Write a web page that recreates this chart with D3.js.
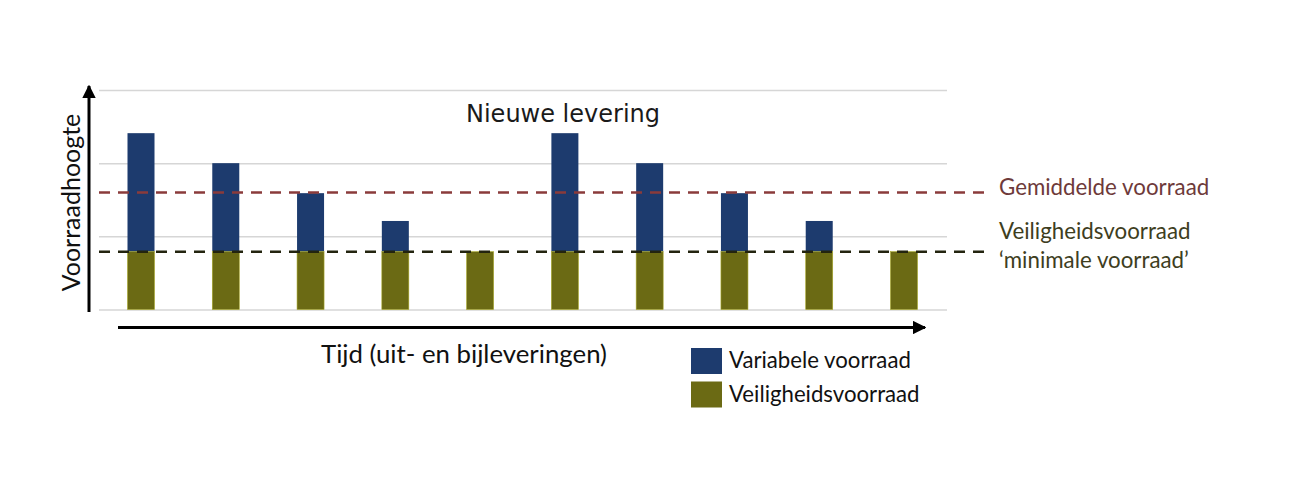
<!DOCTYPE html>
<html><head><meta charset="utf-8">
<script src="https://cdn.jsdelivr.net/npm/d3@7"></script>
<style>body{margin:0;background:#fff}svg{display:block}</style>
</head><body>
<svg id="c" width="1299" height="482"></svg>
<script>
const periods = [1,2,3,4,5,6,7,8,9,10];
const safetyStock = [0.79,0.79,0.79,0.79,0.79,0.79,0.79,0.79,0.79,0.79];
const variableStock = [1.62,1.21,0.80,0.42,0,1.62,1.21,0.80,0.42,0];
const gridTicks = [0,1,2,3];
const meanLevel = 1.60;
const safetyLevel = 0.79;
const seriesNames = ["Variabele voorraad","Veiligheidsvoorraad"];
const colors = {variable:"#1d3b6e", safety:"#6b6a14"};

const svg = d3.select("#c");
const font = "Lato, 'Open Sans', sans-serif";

const x = d3.scalePoint().domain(periods).range([141, 904]);
const y = d3.scaleLinear().domain([0,3]).range([309.5, 90]);
const barW = 27;
const gridX0 = 99, gridX1 = 947, lineX1 = 988;

// gridlines
const yAxis = d3.axisLeft(y).tickValues(gridTicks).tickSize(-(gridX1-gridX0)).tickFormat("");
const gy = svg.append("g").attr("transform",`translate(${gridX0},0)`).call(yAxis);
gy.select(".domain").remove();
gy.selectAll(".tick line").attr("stroke","#d6d6d6").attr("stroke-width",1.5);

// bars
const data = periods.map((p,i)=>({p, s:safetyStock[i], v:variableStock[i]}));
svg.append("g").selectAll("rect.v").data(data.filter(d=>d.v>0)).join("rect")
  .attr("x",d=>x(d.p)-barW/2).attr("width",barW)
  .attr("y",d=>y(d.s+d.v)).attr("height",d=>y(d.s)-y(d.s+d.v))
  .attr("fill",colors.variable);
svg.append("g").selectAll("rect.s").data(data).join("rect")
  .attr("x",d=>x(d.p)-barW/2).attr("width",barW)
  .attr("y",d=>y(d.s)).attr("height",d=>y(0)-y(d.s))
  .attr("fill",colors.safety).attr("stroke","#a8a82a").attr("stroke-width",0.6);

// dashed lines
svg.append("line").attr("x1",gridX0).attr("x2",lineX1).attr("y1",y(meanLevel)).attr("y2",y(meanLevel))
  .attr("stroke","#8a3b3b").attr("stroke-width",2.5).attr("stroke-dasharray","11,8");
svg.append("line").attr("x1",gridX0).attr("x2",lineX1).attr("y1",y(safetyLevel)).attr("y2",y(safetyLevel))
  .attr("stroke","#23240f").attr("stroke-width",2.5).attr("stroke-dasharray","11,8");

// axes arrows
const defs = svg.append("defs");
defs.append("marker").attr("id","arr").attr("viewBox","0 0 10 10").attr("refX",9).attr("refY",5)
  .attr("markerWidth",4.5).attr("markerHeight",4.5).attr("orient","auto")
  .append("path").attr("d","M0,0 L10,5 L0,10 Z").attr("fill","#000");
svg.append("line").attr("x1",89).attr("x2",89).attr("y1",312).attr("y2",86)
  .attr("stroke","#000").attr("stroke-width",3).attr("marker-end","url(#arr)");
svg.append("line").attr("x1",118).attr("x2",925).attr("y1",327.5).attr("y2",327.5)
  .attr("stroke","#000").attr("stroke-width",3).attr("marker-end","url(#arr)");

// texts
svg.append("text").attr("x",466).attr("y",122).attr("font-family","'DejaVu Sans', sans-serif")
  .attr("font-size",24).attr("fill","#1a1a1a").text("Nieuwe levering");
svg.append("text").attr("transform","translate(80,202.5) rotate(-90)").attr("text-anchor","middle")
  .attr("font-family",font).attr("font-size",25).attr("fill","#111").text("Voorraadhoogte");
svg.append("text").attr("x",321).attr("y",363).attr("font-family",font)
  .attr("font-size",25.8).attr("fill","#111").text("Tijd (uit- en bijleveringen)");
svg.append("text").attr("x",999).attr("y",195).attr("font-family",font)
  .attr("font-size",22.3).attr("fill","#6e3a3a").text("Gemiddelde voorraad");
svg.append("text").attr("x",999).attr("y",239).attr("font-family",font)
  .attr("font-size",22.3).attr("fill","#3e3e1e").text("Veiligheidsvoorraad");
svg.append("text").attr("x",999).attr("y",268).attr("font-family",font)
  .attr("font-size",22.3).attr("fill","#3e3e1e").text("\u2018minimale voorraad\u2019");

// legend
const leg = svg.append("g");
const legColors = [colors.variable, colors.safety];
seriesNames.forEach((n,i)=>{
  leg.append("rect").attr("x",691).attr("y",348+i*33.5).attr("width",31).attr("height",26).attr("fill",legColors[i]);
  leg.append("text").attr("x",729).attr("y",368+i*33.5).attr("font-family",font)
    .attr("font-size",22.2).attr("fill","#111").text(n);
});
</script>
</body></html>
